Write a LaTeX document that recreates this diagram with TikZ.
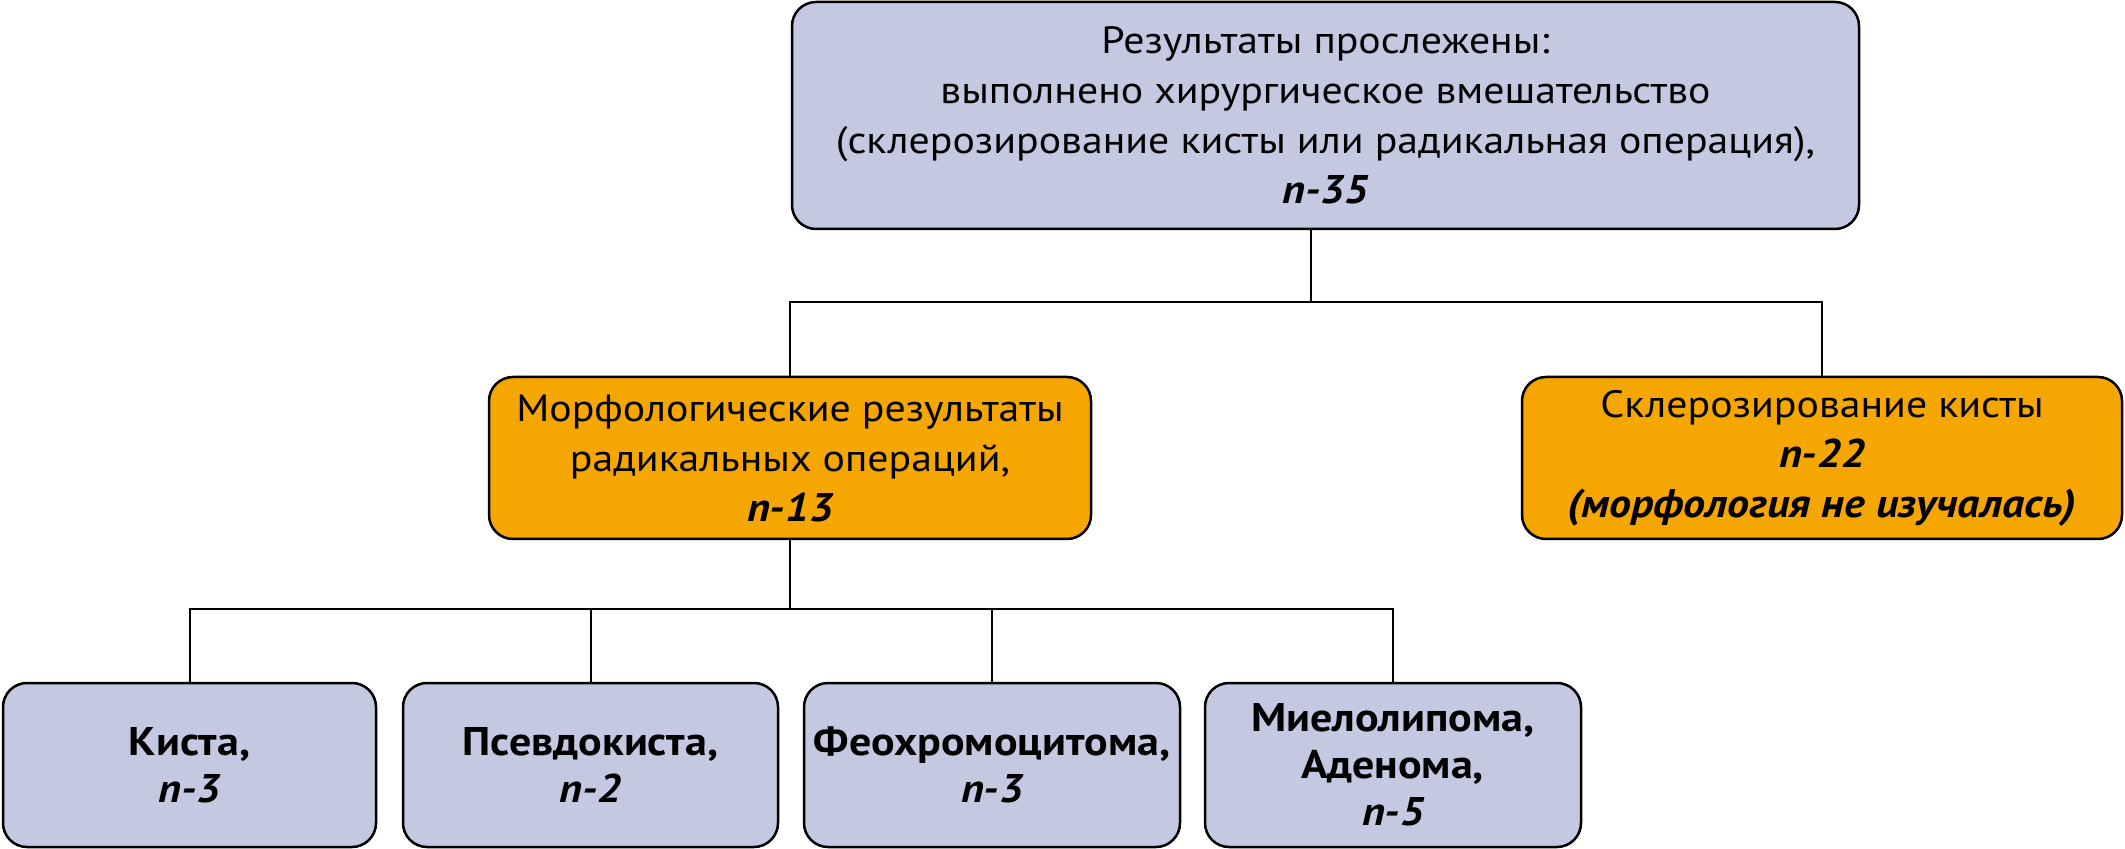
\documentclass[tikz,border=0pt]{standalone}
\usepackage{fontspec}
\setmainfont{PT Sans}[FakeStretch=1.1]
\definecolor{boxblue}{HTML}{C4C8E1}
\definecolor{boxorange}{HTML}{F5A601}
\newcommand{\bi}[1]{{\fontsize{20}{25}\selectfont\bfseries\itshape #1}}
\begin{document}
\begin{tikzpicture}[x=0.5pt,y=-0.5pt,
  box/.style={draw=black, line width=1.25pt, rounded corners=12pt, inner sep=0pt, outer sep=0pt, align=center},
  bluebox/.style={box, fill=boxblue},
  orangebox/.style={box, fill=boxorange},
  conn/.style={draw=black, line width=1pt},
  bigtxt/.style={font=\fontsize{19}{25}\selectfont},
  boldtxt/.style={font=\fontsize{20}{23.5}\selectfont\bfseries}]
\useasboundingbox (0,0) rectangle (2125,849);
\node[bluebox, bigtxt, minimum width=533.5pt, minimum height=113.5pt] (top) at (1325.5,115.5)
  {Результаты прослежены:\\выполнено хирургическое вмешательство\\(склерозирование кисты или радикальная операция),\\\bi{n-35}};
\node[orangebox, bigtxt, minimum width=301pt, minimum height=81pt] (midL) at (790,458)
  {Морфологические результаты\\радикальных операций,\\\bi{n-13}};
\node[orangebox, bigtxt, minimum width=300pt, minimum height=81pt] (midR) at (1822,458)
  {Склерозирование кисты\\\bi{n-22}\\\bi{(морфология не изучалась)}};
\node[bluebox, boldtxt, minimum width=186.5pt, minimum height=82pt] (b1) at (189.5,765)
  {Киста,\\{\itshape n-3}};
\node[bluebox, boldtxt, minimum width=187.5pt, minimum height=82pt] (b2) at (590.5,765)
  {Псевдокиста,\\{\itshape n-2}};
\node[bluebox, boldtxt, minimum width=188pt, minimum height=82pt] (b3) at (992,765)
  {Феохромоцитома,\\{\itshape n-3}};
\node[bluebox, boldtxt, minimum width=188pt, minimum height=82pt] (b4) at (1393,765)
  {Миелолипома,\\Аденома,\\{\itshape n-5}};
\coordinate (t1) at (1311,302);
\coordinate (t2) at (794,609);
\draw[conn] (t1 |- top.south) -- (t1);
\draw[conn] (midL.north) |- (t1) -| (midR.north);
\draw[conn] (midL.south) -- (midL.south |- t2);
\draw[conn] (b1.north) |- (t2) -| (b4.north);
\draw[conn] (b2.north) -- (b2.north |- t2);
\draw[conn] (b3.north) -- (b3.north |- t2);
\end{tikzpicture}
\end{document}
